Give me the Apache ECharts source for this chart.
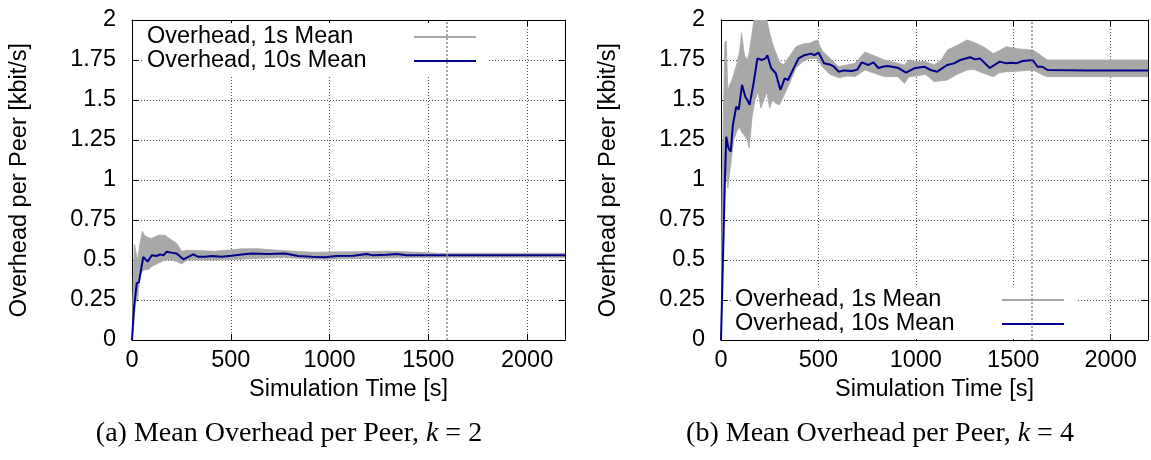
<!DOCTYPE html>
<html>
<head>
<meta charset="utf-8">
<script src="https://cdn.jsdelivr.net/npm/echarts@6/dist/echarts.min.js"></script>
<style>
  html, body { margin: 0; padding: 0; background: #fff; }
  #chart { width: 1151px; height: 460px; }
</style>
</head>
<body>
<div id="chart"></div>
<script>
// ---- k = 2 : spread of the 1 s mean (lower / upper envelope) ----
const bandTimeK2 = [0, 5, 12, 20, 28, 40, 52, 66, 83, 100, 133, 167, 201, 226, 252, 277, 336, 420, 555, 640, 775, 909, 1000, 1150, 1300, 1450, 1550, 1800, 2200];
const bandLowK2  = [0, 0.05, 0.15, 0.25, 0.25, 0.40, 0.43, 0.44, 0.44, 0.46, 0.48, 0.50, 0.50, 0.49, 0.475, 0.50, 0.50, 0.50, 0.505, 0.51, 0.515, 0.505, 0.505, 0.51, 0.512, 0.515, 0.517, 0.517, 0.517];
const bandHighK2 = [0, 0.30, 0.60, 0.55, 0.50, 0.60, 0.68, 0.65, 0.64, 0.635, 0.655, 0.655, 0.625, 0.605, 0.555, 0.56, 0.56, 0.555, 0.57, 0.57, 0.558, 0.548, 0.55, 0.552, 0.555, 0.548, 0.542, 0.542, 0.542];

// ---- k = 2 : 10 s mean ----
const meanTimeK2  = [0, 10, 24, 35, 57, 79, 100, 125, 142, 159, 176, 199, 226, 260, 285, 310, 336, 370, 404, 454, 505, 555, 606, 691, 775, 842, 909, 977, 1036, 1121, 1188, 1222, 1289, 1340, 1391, 1500, 1800, 2200];
const meanValueK2 = [0, 0.20, 0.356, 0.36, 0.52, 0.49, 0.53, 0.525, 0.535, 0.53, 0.552, 0.546, 0.54, 0.504, 0.52, 0.535, 0.52, 0.52, 0.525, 0.52, 0.527, 0.535, 0.54, 0.537, 0.54, 0.525, 0.52, 0.517, 0.525, 0.527, 0.537, 0.529, 0.533, 0.537, 0.529, 0.529, 0.529, 0.529];

// ---- k = 4 : spread of the 1 s mean (lower / upper envelope) ----
const bandTimeK4 = [0, 5, 12, 20, 27, 35, 45, 55, 65, 80, 95, 106, 120, 135, 145, 160, 175, 190, 205, 220, 235, 250, 265, 280, 300, 320, 350, 385, 420, 452, 494, 519, 560, 604, 650, 688, 739, 780, 840, 907, 942, 965, 1000, 1050, 1094, 1130, 1162, 1210, 1263, 1300, 1347, 1398, 1430, 1465, 1520, 1600, 1630, 1651, 1676, 1750, 1900, 2050, 2200];
const bandLowK4  = [0, 0.2, 0.7, 1.0, 1.05, 0.95, 1.05, 1.15, 1.25, 1.3, 1.33, 1.3, 1.28, 1.25, 1.2, 1.4, 1.5, 1.55, 1.45, 1.5, 1.55, 1.45, 1.5, 1.48, 1.47, 1.52, 1.6, 1.70, 1.74, 1.76, 1.76, 1.708, 1.66, 1.64, 1.65, 1.646, 1.6875, 1.67, 1.646, 1.646, 1.604, 1.646, 1.65, 1.66, 1.615, 1.62, 1.625, 1.66, 1.6875, 1.69, 1.667, 1.646, 1.67, 1.677, 1.68, 1.6875, 1.67, 1.656, 1.646, 1.646, 1.646, 1.646, 1.646];
const bandHighK4 = [0, 0.9, 1.4, 1.86, 1.87, 1.55, 1.6, 1.62, 1.66, 1.72, 1.8, 1.92, 1.78, 1.75, 1.8, 1.92, 2.05, 2.05, 2.05, 2.05, 2.0, 1.92, 1.85, 1.8, 1.74, 1.72, 1.77, 1.833, 1.85, 1.854, 1.875, 1.81, 1.76, 1.708, 1.72, 1.729, 1.80, 1.78, 1.75, 1.73, 1.719, 1.75, 1.74, 1.74, 1.719, 1.75, 1.8125, 1.84, 1.875, 1.86, 1.833, 1.79, 1.81, 1.833, 1.82, 1.8125, 1.79, 1.77, 1.75, 1.75, 1.75, 1.75, 1.75];

// ---- k = 4 : 10 s mean ----
const meanTimeK4  = [0, 20, 27, 38, 50, 61, 70, 78, 91, 100, 108, 125, 135, 147, 167, 187, 209, 229, 238, 257, 281, 305, 327, 344, 369, 398, 428, 462, 479, 501, 529, 563, 580, 604, 631, 672, 700, 722, 757, 783, 808, 830, 856, 907, 950, 992, 1043, 1076, 1110, 1161, 1196, 1229, 1279, 1304, 1329, 1380, 1431, 1465, 1490, 1515, 1549, 1600, 1625, 1650, 1676, 1886, 2200];
const meanValueK4 = [0, 1.0, 1.27, 1.2, 1.177, 1.344, 1.35, 1.458, 1.44, 1.52, 1.594, 1.52, 1.5, 1.47, 1.604, 1.76, 1.75, 1.76, 1.78, 1.70, 1.667, 1.5625, 1.635, 1.625, 1.688, 1.76, 1.78, 1.79, 1.78, 1.796, 1.73, 1.72, 1.708, 1.677, 1.685, 1.681, 1.69, 1.735, 1.719, 1.735, 1.70, 1.708, 1.712, 1.702, 1.671, 1.698, 1.708, 1.6875, 1.677, 1.719, 1.729, 1.75, 1.767, 1.754, 1.76, 1.70, 1.74, 1.729, 1.733, 1.729, 1.744, 1.75, 1.708, 1.708, 1.6875, 1.685, 1.685];

// ---- shared labels and scale settings ----
const seriesNames = ['Overhead, 1s Mean', 'Overhead, 10s Mean'];
const captionTags = ['(a)', '(b)'];
const kValues = [2, 4];
const markerTime = [1595];
const xRange = [0, 2192];
const xStep = 500;
const yRange = [0, 2];
const yStep = 0.25;

const SANS = 'Liberation Sans';
const SERIF = 'Liberation Serif';
const FS = 23.5;
const GRAY = '#a8a8a8';
const BLUE = '#00008b';

const panels = [
  { band: [bandTimeK2, bandLowK2, bandHighK2], mean: [meanTimeK2, meanValueK2],
    grid: { left: 132, top: 20, width: 433, height: 320 },
    legendPos: { left: 144, top: 23 }, captionX: 289 },
  { band: [bandTimeK4, bandLowK4, bandHighK4], mean: [meanTimeK4, meanValueK4],
    grid: { left: 721, top: 20, width: 433, height: 320 },
    legendPos: { left: 732, top: 286 }, captionX: 880 }
];

const grids = [], xAxes = [], yAxes = [], series = [], legends = [], graphics = [];

panels.forEach((p, gi) => {
  grids.push(p.grid);

  const tickStyle = { show: true, inside: true, length: 6, lineStyle: { color: '#000', width: 1 } };
  const lineStyle = { show: true, onZero: false, lineStyle: { color: '#000', width: 1 } };
  const gridLine = { show: true, lineStyle: { color: '#555', type: [1, 2], width: 1 } };

  // bottom axis with labels, top mirror axis with ticks only
  xAxes.push({
    type: 'value', gridIndex: gi, position: 'bottom', min: xRange[0], max: xRange[1], interval: xStep,
    axisLine: lineStyle, axisTick: tickStyle, splitLine: gridLine,
    axisLabel: { margin: 9, color: '#000', fontFamily: SANS, fontSize: FS,
                 formatter: v => (v % xStep === 0 ? String(v) : '') },
    name: 'Simulation Time [s]', nameLocation: 'middle', nameGap: 33,
    nameTextStyle: { color: '#000', fontFamily: SANS, fontSize: FS }
  });
  xAxes.push({
    type: 'value', gridIndex: gi, position: 'top', min: xRange[0], max: xRange[1], interval: xStep,
    axisLine: lineStyle, axisTick: tickStyle, axisLabel: { show: false }, splitLine: { show: false }
  });
  yAxes.push({
    type: 'value', gridIndex: gi, position: 'left', min: yRange[0], max: yRange[1], interval: yStep,
    axisLine: lineStyle, axisTick: tickStyle, splitLine: gridLine,
    axisLabel: { margin: 16, color: '#000', fontFamily: SANS, fontSize: FS },
    name: 'Overhead per Peer [kbit/s]', nameLocation: 'middle', nameGap: 100,
    nameTextStyle: { color: '#000', fontFamily: SANS, fontSize: FS }
  });
  yAxes.push({
    type: 'value', gridIndex: gi, position: 'right', min: yRange[0], max: yRange[1], interval: yStep,
    axisLine: lineStyle, axisTick: tickStyle, axisLabel: { show: false }, splitLine: { show: false }
  });

  const [bt, blo, bhi] = p.band;
  // 1 s mean: filled band between its lower and upper envelope
  series.push({
    type: 'custom', name: seriesNames[0], xAxisIndex: gi * 2, yAxisIndex: gi * 2,
    clip: true, silent: true, z: 2,
    itemStyle: { color: GRAY },
    encode: { x: 0, y: [1, 2] },
    data: bt.map((t, i) => [t, blo[i], bhi[i]]),
    renderItem: (params, api) => {
      if (params.dataIndex !== 0) return null;
      const upper = bt.map((t, i) => api.coord([t, bhi[i]]));
      const lower = bt.map((t, i) => api.coord([t, blo[i]])).reverse();
      return {
        type: 'polygon',
        shape: { points: upper.concat(lower) },
        style: { fill: GRAY, stroke: GRAY, lineWidth: 0.8 }
      };
    }
  });

  const [mt, mv] = p.mean;
  // 10 s mean line, plus the dotted time marker drawn over everything
  series.push({
    type: 'line', name: seriesNames[1], xAxisIndex: gi * 2, yAxisIndex: gi * 2,
    data: mt.map((t, i) => [t, mv[i]]),
    symbol: 'none', z: 5, silent: true,
    lineStyle: { color: BLUE, width: 2 },
    itemStyle: { color: BLUE },
    markLine: {
      silent: true, symbol: ['none', 'none'], label: { show: false }, z: 6,
      lineStyle: { color: '#8c8c8c', type: [2, 2], width: 1.5 },
      data: markerTime.map(t => ({ xAxis: t }))
    }
  });

  legends.push({
    left: p.legendPos.left, top: p.legendPos.top, orient: 'vertical', align: 'right',
    itemWidth: 62, itemHeight: 2, itemGap: 0, padding: [2, 12, 3, 3],
    backgroundColor: '#fff', selectedMode: false, z: 4,
    formatter: '{t|{name}}',
    textStyle: { rich: { t: { width: 262, align: 'left', fontFamily: SANS, fontSize: FS, lineHeight: 24, color: '#000' } } },
    data: [
      { name: seriesNames[0], icon: 'rect', itemStyle: { color: GRAY } },
      { name: seriesNames[1], icon: 'rect', itemStyle: { color: BLUE } }
    ]
  });

  graphics.push({
    type: 'text', x: p.captionX, y: 434, silent: true,
    style: {
      text: `{n|${captionTags[gi]} Mean Overhead per Peer, }{i|k}{n| = ${kValues[gi]}}`,
      align: 'center', verticalAlign: 'middle',
      rich: {
        n: { fontFamily: SERIF, fontSize: 28, fill: '#000' },
        i: { fontFamily: SERIF, fontSize: 28, fontStyle: 'italic', fill: '#000' }
      }
    }
  });
});

const chart = echarts.init(document.getElementById('chart'), null, { renderer: 'canvas' });
chart.setOption({
  animation: false,
  backgroundColor: '#fff',
  textStyle: { fontFamily: SANS },
  grid: grids,
  xAxis: xAxes,
  yAxis: yAxes,
  legend: legends,
  series: series,
  graphic: graphics
});
</script>
</body>
</html>
